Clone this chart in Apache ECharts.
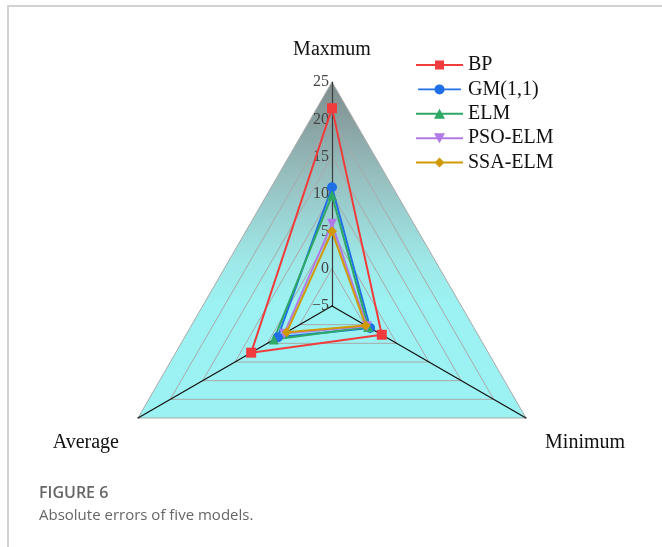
<!DOCTYPE html>
<html>
<head>
<meta charset="utf-8">
<script src="https://cdn.jsdelivr.net/npm/echarts@6/dist/echarts.min.js"></script>
<style>
html,body{margin:0;padding:0;background:#fff;}
#chart{width:662px;height:547px;}
</style>
</head>
<body>
<div id="chart"></div>
<script>
// ---- data ----
const indicatorNames = ['Maxmum', 'Average', 'Minimum'];
const axisMin = -5;
const axisMax = 25;
const modelNames = ['BP', 'GM(1,1)', 'ELM', 'PSO-ELM', 'SSA-ELM'];
const bpValues   = [21.5, 7.5, 2.7];
const gmValues   = [10.9, 3.4, 0.9];
const elmValues  = [9.8, 4.0, 0.6];
const psoValues  = [6.0, 2.4, 0.4];
const ssaValues  = [5.0, 2.0, 0.2];
const captionTitle = 'FIGURE 6';
const captionText = 'Absolute errors of five models.';

// ---- styles ----
const colors = ['#f03c3c', '#1f6fe6', '#2ea865', '#b27ae6', '#cf9a05'];
const symbols = ['rect', 'circle', 'triangle', 'path://M0 0 L10 0 L5 10 Z', 'diamond'];
const legendIcons = [
  'path://M0 4 L47 4 L47 6 L0 6 Z M19 0.6 L28 0.6 L28 9.4 L19 9.4 Z',
  'path://M0 4 L47 4 L47 6 L0 6 Z M29 5 A5.5 5.5 0 1 1 18 5 A5.5 5.5 0 1 1 29 5 Z',
  'path://M0 4 L47 4 L47 6 L0 6 Z M23.5 0 L29 10 L18 10 Z',
  'path://M0 4 L47 4 L47 6 L0 6 Z M18 0 L29 0 L23.5 10 Z',
  'path://M0 4 L47 4 L47 6 L0 6 Z M23.5 0 L28.5 5 L23.5 10 L18.5 5 Z'
];
const allValues = [bpValues, gmValues, elmValues, psoValues, ssaValues];

const chart = echarts.init(document.getElementById('chart'));

const serif = '"Liberation Serif", "Times New Roman", serif';

const option = {
  backgroundColor: '#fff',
  animation: false,
  title: {
    text: captionTitle,
    subtext: captionText,
    left: 34,
    top: 480,
    itemGap: 7,
    textStyle: { fontFamily: '"Open Sans", sans-serif', fontSize: 16, fontWeight: 600, color: '#666' },
    subtextStyle: { fontFamily: '"Open Sans", sans-serif', fontSize: 15, color: '#666' }
  },
  legend: {
    orient: 'vertical',
    left: 411,
    top: 50,
    itemWidth: 47,
    itemHeight: 10,
    itemGap: 4.4,
    textStyle: { fontFamily: serif, fontSize: 20, color: '#111' },
    itemStyle: { borderWidth: 0 },
    data: modelNames.map((n, i) => ({ name: n, icon: legendIcons[i] }))
  },
  graphic: [{
    type: 'polyline',
    shape: { points: [[8, 547], [8, 6], [662, 6]] },
    style: { stroke: '#d2d2d2', lineWidth: 2, fill: null },
    silent: true
  }],
  radar: {
    center: [332, 306],
    radius: 224,
    startAngle: 90,
    shape: 'polygon',
    splitNumber: 6,
    indicator: indicatorNames.map((n, i) => {
      const ind = { name: n, min: axisMin, max: axisMax };
      if (i === 0) {
        ind.axisLabel = { show: true };
        ind.axisLine = { lineStyle: { color: '#3a3a3a' } };
      }
      return ind;
    }),
    axisName: {
      fontFamily: serif, fontSize: 20, color: '#111',
      formatter: (name) => (name === indicatorNames[0] ? '{t|' + name + '}' : '{b|' + name + '}'),
      rich: {
        t: { fontFamily: serif, fontSize: 20, color: '#111' },
        b: { fontFamily: serif, fontSize: 20, color: '#111', padding: [28, 0, 0, 0] }
      }
    },
    nameGap: 22,
    axisLine: { lineStyle: { color: '#111', width: 1.2 } },
    axisTick: { show: false },
    axisLabel: {
      show: false, fontFamily: serif, fontSize: 16, color: '#444', margin: 3,
      formatter: v => String(v).replace('-', '\u2212')
    },
    splitLine: { lineStyle: { color: '#a9a9a9', width: 1 } },
    splitArea: {
      show: true,
      areaStyle: {
        color: {
          type: 'linear', x: 0, y: 82, x2: 0, y2: 306, global: true,
          colorStops: [
            { offset: 0, color: '#7f8c8c' },
            { offset: 0.45, color: '#98c2c2' },
            { offset: 0.8, color: '#9ee8e8' },
            { offset: 1, color: '#9cf2f2' }
          ]
        }
      }
    }
  },
  series: [{
    type: 'radar',
    data: modelNames.map((n, i) => ({
      name: n,
      value: allValues[i],
      symbol: symbols[i],
      symbolSize: 10,
      itemStyle: { color: colors[i] },
      lineStyle: { color: colors[i], width: 2 }
    }))
  }]
};
chart.setOption(option);
</script>
</body>
</html>
